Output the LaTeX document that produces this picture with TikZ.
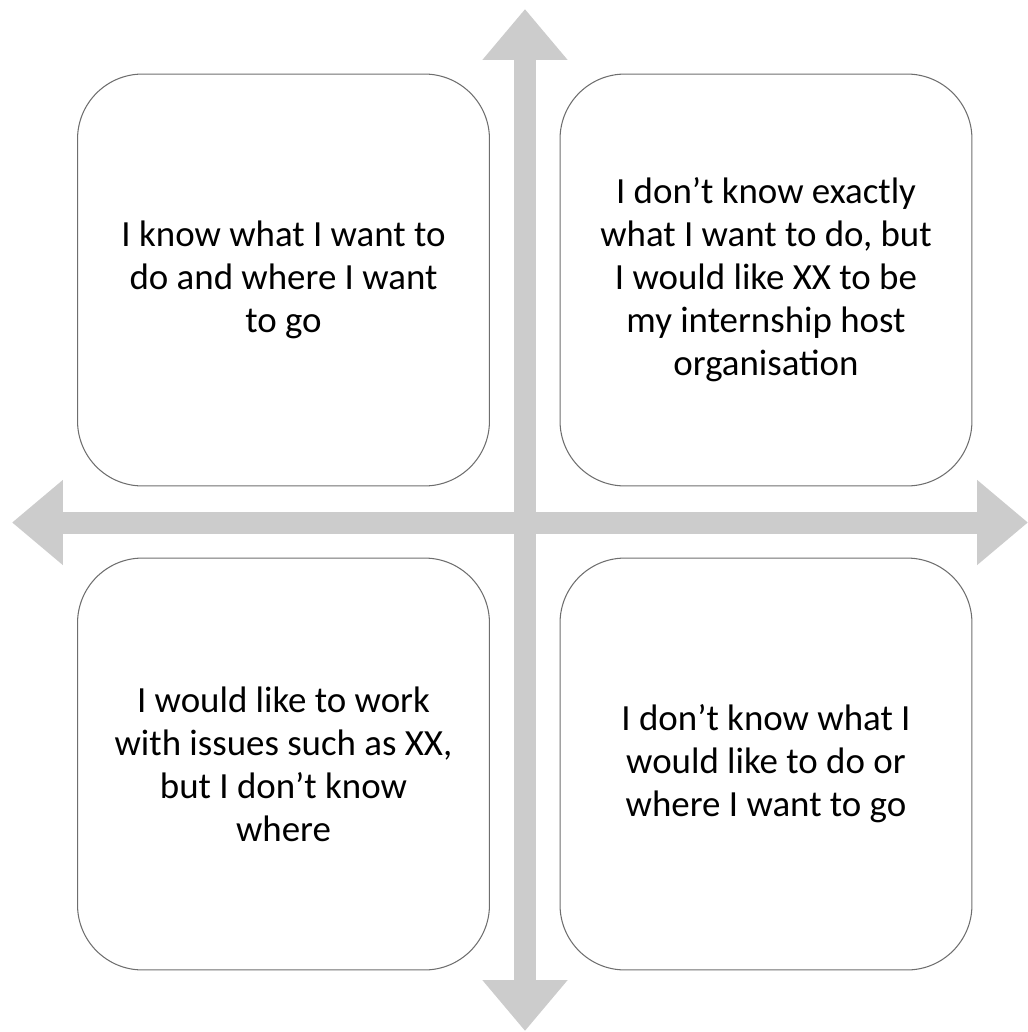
\documentclass[tikz,border=0pt]{standalone}
\usepackage{fontspec}
\setmainfont{Carlito}
\usepackage{tikz}
\usetikzlibrary{arrows.meta}
\pgfdeclarelayer{edgelayer}
\pgfdeclarelayer{nodelayer}
\pgfsetlayers{edgelayer,nodelayer,main}
\definecolor{axisgray}{HTML}{CCCCCC}
\definecolor{boxgray}{HTML}{6E6E6E}
\tikzset{
	quadbox/.style={draw=boxgray, line width=0.6pt, rounded corners=1.3cm, minimum width=8.24cm, minimum height=8.24cm, align=center, text=black, font=\fontsize{21pt}{24.5pt}\selectfont},
	bigarrow/.style={draw=axisgray, line width=0.44cm, {Triangle[length=1.02cm,width=1.64cm]}-{Triangle[length=1.02cm,width=1.64cm]}},
	tip/.style={inner sep=0pt, minimum size=0pt}
}

\begin{document}
\begin{tikzpicture}[x=0.02cm, y=-0.02cm]
	\useasboundingbox (0, 0) rectangle (1028, 1032);
	\begin{pgfonlayer}{nodelayer}
		\node [style=quadbox] (0) at (283.5, 280) {I know what I want to\\do and where I want\\to go};
		\node [style=quadbox] (1) at (766, 280) {I don’t know exactly\\what I want to do, but\\I would like XX to be\\my internship host\\organisation};
		\node [style=quadbox] (2) at (283.5, 764) {I would like to work\\with issues such as XX,\\but I don’t know\\where};
		\node [style=quadbox] (3) at (766, 764) {I don’t know what I\\would like to do or\\where I want to go};
		\node [style=tip] (4) at (525, 9) {};
		\node [style=tip] (5) at (525, 1031) {};
		\node [style=tip] (6) at (12, 522.5) {};
		\node [style=tip] (7) at (1028, 522.5) {};
	\end{pgfonlayer}
	\begin{pgfonlayer}{edgelayer}
		\draw [style=bigarrow] (6.center) to (7.center);
		\draw [style=bigarrow] (4.center) to (5.center);
	\end{pgfonlayer}
\end{tikzpicture}
\end{document}
